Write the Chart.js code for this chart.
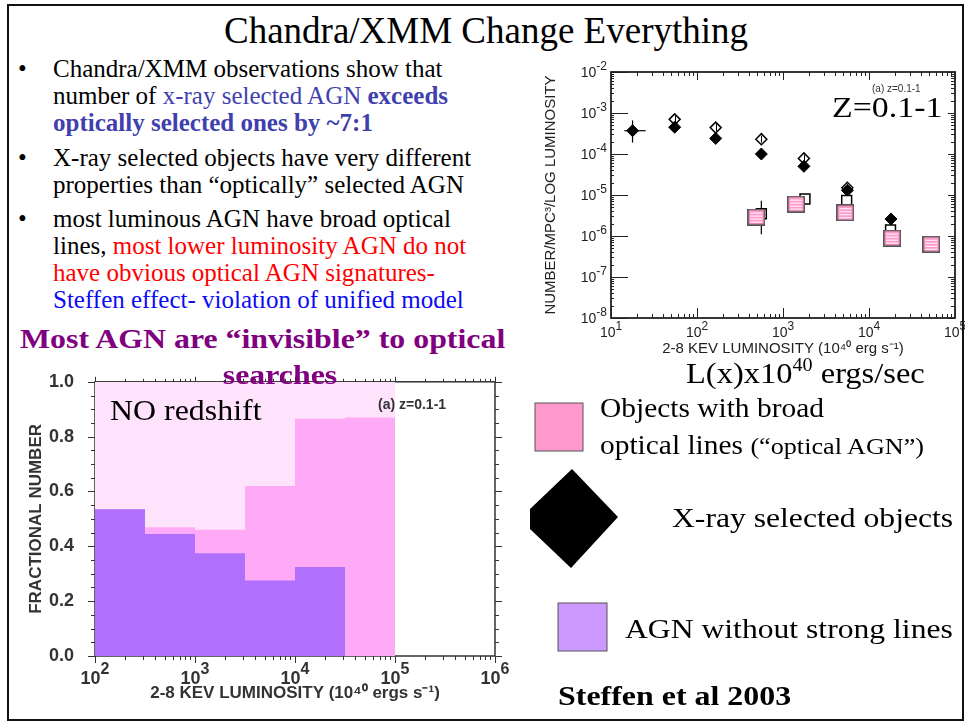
<!DOCTYPE html>
<html lang="en">
<head>
<meta charset="UTF-8">
<title>Chandra/XMM Change Everything</title>
<script src="https://cdn.jsdelivr.net/npm/chart.js"></script>
<style>
    body { margin: 0; width: 969px; height: 723px; background: #fff; position: relative; overflow: hidden; }
    .frame { position: absolute; left: 7px; top: 4px; width: 953px; height: 713px; border: 2.5px solid #111; }
    .t { position: absolute; white-space: nowrap; font-family: "Liberation Serif", serif; line-height: 1; color: #000; transform-origin: left top; }
    .bul { position: absolute; left: 18px; font-family: "Liberation Serif", serif; font-size: 25px; line-height: 27px; white-space: nowrap; }
    .bul span.dot { position: absolute; left: 0; }
    .bul div { margin-left: 35px; }
    .blue1 { color: #3f3fae; }
    .red { color: #ff0000; }
    .blue2 { color: #0b0bf5; }
    canvas { position: absolute; }
    #histo { left: 20px; top: 358px; }
    #lumfn { left: 540px; top: 60px; }
    .lbl { position: absolute; white-space: nowrap; font-family: "Liberation Sans", Arial, sans-serif; line-height: 1; }
</style>
</head>
<body>
<div class="frame"></div>

<canvas id="histo" width="490" height="352"></canvas>
<canvas id="lumfn" width="425" height="300"></canvas>

<div class="t" style="left:0; width:972px; text-align:center; top:12px; font-size:37px;">Chandra/XMM Change Everything</div>

<div class="bul" style="top:55px;"><span class="dot">•</span><div>Chandra/XMM observations show that<br>number of <span class="blue1">x-ray selected AGN <b>exceeds</b></span><br><b class="blue1">optically selected ones by ~7:1</b></div></div>
<div class="bul" style="top:144px;"><span class="dot">•</span><div>X-ray selected objects have very different<br>properties than “optically” selected AGN</div></div>
<div class="bul" style="top:205px;"><span class="dot">•</span><div>most luminous AGN have broad optical<br>lines, <span class="red">most lower luminosity AGN do not</span><br><span class="red">have obvious optical AGN signatures-</span><br><span class="blue2">Steffen effect- violation of unified model</span></div></div>

<div class="t" style="left:20px; top:326px; font-size:27px; font-weight:bold; color:#800080; transform:scaleX(1.18);">Most AGN are “invisible” to optical</div>
<div class="t" style="left:0; width:560px; text-align:center; top:362px; font-size:27px; font-weight:bold; color:#800080; transform:scaleX(1.18); transform-origin:280px 0;">searches</div>

<div class="t" style="left:110px; top:396px; font-size:29px; transform:scaleX(1.1);">NO redshift</div>
<div class="lbl" style="left:378px; top:397px; font-size:14px; font-weight:bold; color:#333;">(a) z=0.1-1</div>

<div class="lbl" style="left:872px; top:84px; font-size:10px; color:#333;">(a) z=0.1-1</div>
<div class="t" style="left:832px; top:92px; font-size:30px; transform:scaleX(1.13);">Z=0.1-1</div>
<div class="t" style="left:686px; top:356px; font-size:29px; transform:scaleX(1.12);">L(x)x10<sup style="font-size:18px; vertical-align:12px;">40</sup> ergs/sec</div>

<svg width="969" height="723" style="position:absolute; left:0; top:0;">
    <rect x="535" y="403" width="48" height="48" fill="#ff99cc" stroke="#555" stroke-width="1"/>
    <polygon points="572,469 618,517 571,568 530,529 530,509" fill="#000"/>
    <rect x="558" y="603" width="49" height="48" fill="#cc99ff" stroke="#555" stroke-width="1"/>
</svg>
<div class="t" style="left:600px; top:395px; font-size:27px; transform:scaleX(1.09);">Objects with broad</div>
<div class="t" style="left:600px; top:432px; font-size:27px; transform:scaleX(1.09);">optical lines <span style="font-size:24px;">(“optical AGN”)</span></div>
<div class="t" style="left:672px; top:504px; font-size:28px; transform:scaleX(1.13);">X-ray selected objects</div>
<div class="t" style="left:625px; top:615px; font-size:28px; transform:scaleX(1.13);">AGN without strong lines</div>
<div class="t" style="left:558px; top:682px; font-size:28px; font-weight:bold; transform:scaleX(1.14);">Steffen et al 2003</div>

<script>
// --- bottom-left histogram: fraction of objects per half-decade luminosity bin
const binEdges = [100, 316, 1000, 3162, 10000, 31623, 100000];
const fracAll = [1.0, 1.0, 1.0, 1.0, 1.0, 1.0];
const fracBroad = [0.535, 0.47, 0.46, 0.62, 0.865, 0.87];
const fracNoLines = [0.535, 0.445, 0.375, 0.275, 0.325];

// --- top-right luminosity function (number / Mpc^3 / log L)
const lumXray = [17.8, 55, 165, 560, 1750, 5600, 18000];
const densXray = [3.7e-4, 4.5e-4, 2.4e-4, 1.0e-4, 5.0e-5, 1.3e-5, 2.6e-6];
const lumXrayOpen = [55, 165, 560, 1750, 5600];
const densXrayOpen = [7.0e-4, 4.4e-4, 2.3e-4, 7.8e-5, 1.5e-5];
const densXrayOpenLo = [5.6e-4, 3.6e-4, 1.9e-4, 6.3e-5, 1.2e-5];
const densXrayOpenHi = [8.6e-4, 5.4e-4, 2.8e-4, 9.5e-5, 1.8e-5];
const lumBroad = [490, 1420, 5300, 18600, 53000];
const densBroad = [2.9e-6, 6.0e-6, 3.7e-6, 8.9e-7, 6.3e-7];
const lumBroadOpen = [560, 1800, 5500, 17800];
const densBroadOpen = [3.5e-6, 8.0e-6, 7.4e-6, 1.4e-6];

// error bars
const errBars = [
    { x: 17.8, y: 3.7e-4, xlo: 14.3, xhi: 25.3, ylo: 1.9e-4, yhi: 6.6e-4 },
    { x: 560, y: 3.5e-6, ylo: 1.1e-6, yhi: 7.2e-6 }
];

const xDecadesTop = [10, 100, 1000, 10000, 100000];
const yDecadesTop = [1e-2, 1e-3, 1e-4, 1e-5, 1e-6, 1e-7, 1e-8];
const xDecadesBottom = [100, 1000, 10000, 100000, 1000000];

function stepData(edges, vals) {
    const pts = vals.map((v, i) => ({ x: edges[i], y: v }));
    pts.push({ x: edges[vals.length], y: vals[vals.length - 1] });
    return pts;
}

function minorLog(decades) {
    const out = [];
    for (let i = 0; i < decades.length - 1; i++)
        for (let k = 2; k <= 9; k++) out.push(decades[i] * k);
    return out;
}

function stripedBox(w, h) {
    const c = document.createElement('canvas');
    c.width = w; c.height = h;
    const g = c.getContext('2d');
    g.fillStyle = '#ff99cc'; g.fillRect(0, 0, w, h);
    g.strokeStyle = '#ffffff'; g.lineWidth = 1;
    for (let yy = 4.5; yy < h - 3; yy += 3) {
        g.beginPath(); g.moveTo(3, yy); g.lineTo(w - 3, yy); g.stroke();
    }
    g.strokeStyle = '#555'; g.lineWidth = 1.5;
    g.strokeRect(0.75, 0.75, w - 1.5, h - 1.5);
    return c;
}

function powLabel(ctx, x, y, exp, f, align) {
    ctx.font = f.base; const w1 = ctx.measureText('10').width;
    ctx.font = f.sup; const w2 = ctx.measureText(exp).width;
    const left = align === 'center' ? x - (w1 + w2) / 2 : x - w1 - w2;
    ctx.textAlign = 'left'; ctx.textBaseline = 'alphabetic';
    ctx.font = f.base; ctx.fillText('10', left, y);
    ctx.font = f.sup; ctx.fillText(exp, left + w1, y - f.rise);
}

// frame, tick marks on all four sides and 10^n labels
const axisDecor = {
    id: 'axisDecor',
    beforeDatasetsDraw(chart, args, o) {
        const { ctx, chartArea: a } = chart;
        ctx.save();
        ctx.strokeStyle = o.color; ctx.lineWidth = o.frameWidth;
        ctx.strokeRect(a.left, a.top, a.right - a.left, a.bottom - a.top);
        ctx.restore();
    },
    afterDatasetsDraw(chart, args, o) {
        const { ctx, chartArea: a } = chart;
        const sx = chart.scales.x, sy = chart.scales.y;
        const d = o.inward ? 1 : -1;
        const L = o.len;
        ctx.save();
        ctx.strokeStyle = o.color; ctx.lineWidth = 1;
        const line = (x1, y1, x2, y2) => { ctx.beginPath(); ctx.moveTo(x1, y1); ctx.lineTo(x2, y2); ctx.stroke(); };
        const doX = (vals, k) => vals.forEach(v => {
            const p = Math.round(sx.getPixelForValue(v)) + 0.5;
            if (L.bottom[k]) line(p, a.bottom, p, a.bottom - d * L.bottom[k]);
            if (L.top[k]) line(p, a.top, p, a.top + d * L.top[k]);
        });
        const doY = (vals, k) => vals.forEach(v => {
            const p = Math.round(sy.getPixelForValue(v)) + 0.5;
            if (L.left[k]) line(a.left, p, a.left + d * L.left[k], p);
            if (L.right[k]) line(a.right, p, a.right - d * L.right[k], p);
        });
        doX(o.xMajor, 0); doX(o.xMinor, 1);
        doY(o.yMajor, 0); doY(o.yMinor, 1);
        ctx.fillStyle = o.labelColor;
        if (o.xLabels) o.xLabels.forEach(v => {
            powLabel(ctx, sx.getPixelForValue(v), a.bottom + o.xLabelOffset, String(Math.round(Math.log10(v))), o.labelFont, 'center');
        });
        if (o.yLabels) o.yLabels.forEach(v => {
            powLabel(ctx, a.left - o.yLabelOffset, sy.getPixelForValue(v) + 4.5, String(Math.round(Math.log10(v))), o.labelFont, 'right');
        });
        ctx.restore();
    }
};

// error bars drawn behind the markers
const errorBars = {
    id: 'errorBars',
    beforeDatasetsDraw(chart, args, o) {
        const { ctx } = chart;
        const sx = chart.scales.x, sy = chart.scales.y;
        ctx.save();
        ctx.strokeStyle = '#000'; ctx.lineWidth = 1.2;
        o.bars.forEach(b => {
            const px = sx.getPixelForValue(b.x), py = sy.getPixelForValue(b.y);
            if (b.xlo) { ctx.beginPath(); ctx.moveTo(sx.getPixelForValue(b.xlo), py); ctx.lineTo(sx.getPixelForValue(b.xhi), py); ctx.stroke(); }
            if (b.ylo) { ctx.beginPath(); ctx.moveTo(px, sy.getPixelForValue(b.ylo)); ctx.lineTo(px, sy.getPixelForValue(b.yhi)); ctx.stroke(); }
        });
        ctx.restore();
    },
    afterDatasetsDraw(chart, args, o) {
        const { ctx } = chart;
        const sx = chart.scales.x, sy = chart.scales.y;
        ctx.save();
        ctx.strokeStyle = '#000'; ctx.lineWidth = 1;
        o.front.x.forEach((xv, i) => {
            const px = Math.round(sx.getPixelForValue(xv)) + 0.5;
            ctx.beginPath(); ctx.moveTo(px, sy.getPixelForValue(o.front.lo[i])); ctx.lineTo(px, sy.getPixelForValue(o.front.hi[i])); ctx.stroke();
        });
        ctx.restore();
    }
};

// --- histogram
new Chart(document.getElementById('histo'), {
    type: 'line',
    data: {
        datasets: [
            { data: stepData(binEdges, fracNoLines), stepped: 'before', fill: 'origin', backgroundColor: '#b070fb', borderWidth: 0, pointRadius: 0 },
            { data: stepData(binEdges, fracBroad), stepped: 'before', fill: 'origin', backgroundColor: '#ffaaf7', borderWidth: 0, pointRadius: 0 },
            { data: stepData(binEdges, fracAll), stepped: 'before', fill: 'origin', backgroundColor: '#ffe2fb', borderWidth: 0, pointRadius: 0 }
        ]
    },
    options: {
        responsive: false, animation: false,
        layout: { padding: { top: 0, right: 15, left: 0, bottom: 0 } },
        plugins: {
            legend: { display: false }, tooltip: { enabled: false },
            axisDecor: {
                color: '#333', frameWidth: 1.5, inward: false, labelColor: '#333',
                len: { bottom: [7, 4], top: [5, 3], left: [7, 4], right: [7, 4] },
                xMajor: xDecadesBottom, xMinor: minorLog(xDecadesBottom),
                yMajor: [0, 0.2, 0.4, 0.6, 0.8, 1.0],
                yMinor: [0.05, 0.1, 0.15, 0.25, 0.3, 0.35, 0.45, 0.5, 0.55, 0.65, 0.7, 0.75, 0.85, 0.9, 0.95],
                xLabels: xDecadesBottom, xLabelOffset: 28,
                labelFont: { base: 'bold 18px "Liberation Sans", Arial', sup: 'bold 16px "Liberation Sans", Arial', rise: 10 }
            }
        },
        scales: {
            x: {
                type: 'logarithmic', min: 100, max: 1000000,
                grid: { display: false }, border: { display: false },
                ticks: { display: false },
                title: { display: true, text: '2-8 KEV LUMINOSITY (10⁴⁰ ergs s⁻¹)', color: '#333', font: { family: '"Liberation Sans", Arial', size: 17, weight: 'bold' }, padding: { top: 0, bottom: 6 } },
                afterFit: s => { s.height = 54; }
            },
            y: {
                min: 0, max: 1.0,
                grid: { display: false }, border: { display: false },
                ticks: { stepSize: 0.2, padding: 13, color: '#333', font: { family: '"Liberation Sans", Arial', size: 18, weight: 'bold' }, callback: v => v.toFixed(1) },
                title: { display: true, text: 'FRACTIONAL NUMBER', color: '#333', font: { family: '"Liberation Sans", Arial', size: 17, weight: 'bold' }, padding: { top: 6, bottom: 0 } },
                afterFit: s => { s.width = 75; }
            }
        }
    },
    plugins: [axisDecor]
});

// --- luminosity function
new Chart(document.getElementById('lumfn'), {
    type: 'scatter',
    data: {
        datasets: [
            { data: lumBroad.map((x, i) => ({ x, y: densBroad[i] })), pointStyle: stripedBox(18, 17), pointRadius: 9 },
            { data: lumBroadOpen.map((x, i) => ({ x, y: densBroadOpen[i] })), pointStyle: 'rect', pointRadius: 7, backgroundColor: '#fff', borderColor: '#000', borderWidth: 1.5 },
            { data: lumXray.map((x, i) => ({ x, y: densXray[i] })), pointStyle: 'rectRot', pointRadius: 6, backgroundColor: '#000', borderColor: '#000', borderWidth: 1 },
            { data: lumXrayOpen.map((x, i) => ({ x, y: densXrayOpen[i] })), pointStyle: 'rectRot', pointRadius: 5.5, backgroundColor: '#fff', borderColor: '#000', borderWidth: 1.5 }
        ]
    },
    options: {
        responsive: false, animation: false,
        layout: { padding: { top: 12, right: 6, left: 0, bottom: 0 } },
        plugins: {
            legend: { display: false }, tooltip: { enabled: false },
            errorBars: { bars: errBars, front: { x: lumXrayOpen, lo: densXrayOpenLo, hi: densXrayOpenHi } },
            axisDecor: {
                color: '#222', frameWidth: 1.8, inward: true, labelColor: '#222',
                len: { bottom: [10, 4], top: [8, 4], left: [17, 3], right: [7, 4] },
                xMajor: xDecadesTop, xMinor: minorLog(xDecadesTop),
                yMajor: yDecadesTop, yMinor: minorLog(yDecadesTop.slice().reverse()),
                xLabels: xDecadesTop, xLabelOffset: 19,
                yLabels: yDecadesTop, yLabelOffset: 4,
                labelFont: { base: '14px "Liberation Sans", Arial', sup: '12px "Liberation Sans", Arial', rise: 7 }
            }
        },
        scales: {
            x: {
                type: 'logarithmic', min: 10, max: 100000,
                grid: { display: false }, border: { display: false },
                ticks: { display: false },
                title: { display: true, text: '2-8 KEV LUMINOSITY (10⁴⁰ erg s⁻¹)', color: '#222', font: { family: '"Liberation Sans", Arial', size: 15 }, padding: { top: 0, bottom: 2 } },
                afterFit: s => { s.height = 42; }
            },
            y: {
                type: 'logarithmic', min: 1e-8, max: 1e-2,
                grid: { display: false }, border: { display: false },
                ticks: { display: false },
                title: { display: true, text: 'NUMBER/MPC³/LOG LUMINOSITY', color: '#222', font: { family: '"Liberation Sans", Arial', size: 15 }, padding: { top: 2, bottom: 0 } },
                afterFit: s => { s.width = 71; }
            }
        }
    },
    plugins: [errorBars, axisDecor]
});
</script>
</body>
</html>
